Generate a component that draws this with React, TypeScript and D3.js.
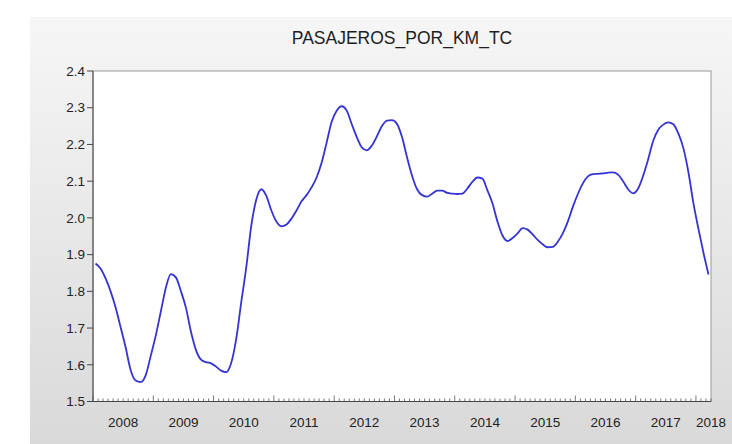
import React from "react";
import * as d3 from "d3";

const TITLE = "PASAJEROS_POR_KM_TC";
const YEAR_LABELS = ["2008", "2009", "2010", "2011", "2012", "2013", "2014", "2015", "2016", "2017", "2018"];
const Y_TICKS = [1.5, 1.6, 1.7, 1.8, 1.9, 2.0, 2.1, 2.2, 2.3, 2.4];
const Y_DOMAIN = [1.5, 2.4];

// Monthly values, 2008M01 .. 2018M03
const VALUES = [
  // 2008
  1.876, 1.862, 1.835, 1.800, 1.756, 1.702, 1.647, 1.585, 1.557, 1.553, 1.572, 1.625,
  // 2009
  1.680, 1.745, 1.810, 1.847, 1.838, 1.800, 1.755, 1.690, 1.640, 1.614, 1.607, 1.604,
  // 2010
  1.595, 1.584, 1.580, 1.605, 1.670, 1.770, 1.865, 1.978, 2.050, 2.078, 2.060, 2.020,
  // 2011
  1.990, 1.977, 1.982, 1.998, 2.020, 2.045, 2.062, 2.083, 2.110, 2.150, 2.205, 2.262,
  // 2012
  2.292, 2.304, 2.292, 2.255, 2.220, 2.192, 2.184, 2.197, 2.222, 2.250, 2.265, 2.266,
  // 2013
  2.256, 2.220, 2.165, 2.115, 2.078, 2.062, 2.058, 2.066, 2.074, 2.074, 2.068, 2.066,
  // 2014
  2.065, 2.066, 2.080, 2.098, 2.110, 2.107, 2.075, 2.040, 1.990, 1.952, 1.937, 1.945,
  // 2015
  1.958, 1.972, 1.968, 1.955, 1.940, 1.928, 1.920, 1.921, 1.935, 1.958, 1.990, 2.030,
  // 2016
  2.065, 2.094, 2.113, 2.119, 2.120, 2.121, 2.123, 2.124, 2.118, 2.100, 2.078, 2.067,
  // 2017
  2.080, 2.115, 2.160, 2.210, 2.240, 2.254, 2.260, 2.255, 2.230, 2.190, 2.125, 2.040,
  // 2018
  1.970, 1.905, 1.846,
];

export default function App() {
  const W = 732;
  const H = 444;
  const left = 93;
  const right = 711;
  const top = 71;
  const bottom = 401.5;
  const n = VALUES.length;

  const x = d3.scaleLinear().domain([-0.5, n - 0.5]).range([left, right]);
  const y = d3.scaleLinear().domain(Y_DOMAIN).range([bottom, top]);

  const line = d3
    .line<number>()
    .x((_, i) => x(i))
    .y((d) => y(d))
    .curve(d3.curveMonotoneX);

  const monthTicks = d3.range(0, n + 1);
  const font = "'Liberation Sans', Arial, sans-serif";

  return (
    <svg
      width={W}
      height={H}
      style={{ position: "absolute", left: 0, top: 0, background: "#fff" }}
    >
      <defs>
        <linearGradient id="bg" x1="0" y1="0" x2="0" y2="1">
          <stop offset="0" stopColor="#f6f6f6" />
          <stop offset="1" stopColor="#d9d9d9" />
        </linearGradient>
      </defs>
      <rect x={30} y={17} width={W - 30} height={H - 17} fill="url(#bg)" />
      <text
        x={(left + right) / 2}
        y={44}
        textAnchor="middle"
        fontFamily={font}
        fontSize={17.5}
        fill="#1e1e1e"
      >
        {TITLE}
      </text>
      <rect x={left} y={top} width={right - left} height={bottom - top} fill="#fff" stroke="#9a9a9a" strokeWidth={1} />
      {/* Y axis */}
      <line x1={left} x2={left} y1={top} y2={bottom} stroke="#444" />
      {Y_TICKS.map((t) => (
        <g key={t}>
          <line x1={left - 6} x2={left} y1={y(t)} y2={y(t)} stroke="#444" />
          <text
            x={left - 8}
            y={y(t)}
            dy="0.35em"
            textAnchor="end"
            fontFamily={font}
            fontSize={13.5}
            fill="#222"
          >
            {t.toFixed(1)}
          </text>
        </g>
      ))}
      {/* X axis */}
      <line x1={left} x2={right} y1={bottom} y2={bottom} stroke="#444" />
      {monthTicks.map((k) => (
        <line
          key={k}
          x1={x(k - 0.5)}
          x2={x(k - 0.5)}
          y1={bottom}
          y2={bottom - (k % 12 === 0 ? 6 : 3)}
          stroke="#555"
          strokeWidth={0.8}
        />
      ))}
      {YEAR_LABELS.map((lab, j) => {
        const mid = Math.min(j * 12 + 5.5, n - 0.5);
        return (
          <text
            key={lab}
            x={x(mid)}
            y={422}
            dy="0.35em"
            textAnchor="middle"
            fontFamily={font}
            fontSize={13.5}
            fill="#222"
          >
            {lab}
          </text>
        );
      })}
      <path d={line(VALUES) || ""} fill="none" stroke="#3434d4" strokeWidth={1.8} />
    </svg>
  );
}
